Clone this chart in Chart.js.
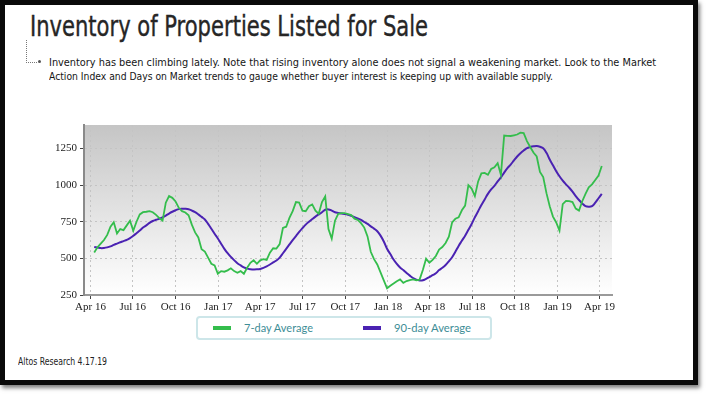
<!DOCTYPE html>
<html>
<head>
<meta charset="utf-8">
<script src="https://cdn.jsdelivr.net/npm/chart.js@4.4.0/dist/chart.umd.min.js"></script>
<style>
  html, body { margin: 0; padding: 0; width: 706px; height: 394px; overflow: hidden; background: #fff; }
  .frame { position: absolute; left: 0; top: 0; width: 688px; height: 375px; border: 5px solid #0a0a0a; box-shadow: 2px 3px 4px rgba(0,0,0,0.5); background: #fff; }
  .title { position: absolute; left: 30px; top: 9px; font-family: "Liberation Sans Narrow", "DejaVu Sans Condensed", sans-serif; font-size: 29px; line-height: 34px; color: #262626; white-space: nowrap; display: inline-block; transform-origin: left top; -webkit-text-stroke: 0.4px #262626; }
  .bracket { position: absolute; left: 26px; top: 40px; width: 10px; height: 22px; border-left: 1px dotted #777; border-bottom: 1px dotted #777; }
  .dot { position: absolute; left: 38px; top: 60px; width: 3px; height: 3px; background: #555; border-radius: 50%; }
  .para { position: absolute; left: 49px; font-family: "DejaVu Sans Condensed", "Liberation Sans", sans-serif; font-size: 11px; line-height: 14px; color: #151515; white-space: nowrap; display: inline-block; transform-origin: left top; }
  .source { position: absolute; left: 18px; top: 356px; font-family: "DejaVu Sans Condensed", "Liberation Sans", sans-serif; font-size: 10px; color: #222; white-space: nowrap; display: inline-block; transform-origin: left top; }
  .chart-box { position: absolute; left: 0; top: 115px; width: 706px; height: 200px; }
  .legend { position: absolute; left: 196px; top: 316px; width: 292px; height: 20px; border: 2px solid #cde6e9; border-radius: 4px; }
  .legend-item { position: absolute; top: 0; height: 20px; font-family: Lato, "Open Sans", sans-serif; font-size: 12px; line-height: 20px; color: #3e8d96; white-space: nowrap; }
  .legend-swatch { position: absolute; top: 8px; width: 18px; height: 4px; }
  .legend-text { position: absolute; left: 31px; top: 0; display: inline-block; transform-origin: left center; }
</style>
</head>
<body>
<div class="frame"></div>
<div class="title" id="title">Inventory of Properties Listed for Sale</div>
<div class="bracket"></div>
<div class="dot"></div>
<div class="para" id="line1" style="top:56px">Inventory has been climbing lately. Note that rising inventory alone does not signal a weakening market. Look to the Market</div>
<div class="para" id="line2" style="top:70px">Action Index and Days on Market trends to gauge whether buyer interest is keeping up with available supply.</div>
<div class="chart-box"><canvas id="chart" width="706" height="200"></canvas></div>
<div class="legend" id="legend"></div>
<div class="source" id="source">Altos Research 4.17.19</div>

<script>
// weekly readings, first week ending 9 Apr 2016
const firstWeek = '2016-04-09';
const seriesNames = ['7-day Average', '90-day Average'];
const seriesColors = ['#34bd4c', '#4a22b2'];

const sevenDay = [
  540, 575, 600, 625, 660, 716, 746, 670, 700, 693,
  725, 757, 689, 750, 800, 815, 818, 822, 815, 797,
  775, 757, 880, 925, 913, 888, 845, 822, 813, 794,
  730, 677, 643, 563, 546, 505, 463, 452, 395, 413,
  409, 418, 432, 413, 402, 413, 395, 436, 470, 487,
  463, 487, 494, 489, 539, 569, 567, 597, 707, 716,
  776, 822, 884, 880, 826, 822, 856, 868, 826, 804,
  884, 923, 700, 635, 757, 804, 808, 808, 802, 795,
  771, 762, 740, 710, 650, 545, 495, 458, 405, 350,
  296, 313, 328, 344, 356, 333, 345, 352, 356, 350,
  355, 420, 498, 470, 490, 516, 560, 577, 605, 648,
  745, 770, 780, 828, 860, 999, 976, 925, 1025, 1080,
  1083, 1070, 1110, 1122, 1150, 1070, 1338, 1336, 1335, 1340,
  1345, 1358, 1355, 1300, 1260, 1222, 1195, 1090, 1055, 945,
  855, 785, 745, 689, 870, 892, 890, 884, 840, 826,
  890, 940, 985, 1005, 1035, 1065, 1130
];

const ninetyDay = [
  578, 574, 570, 571, 575, 582, 592, 601, 610, 618,
  626, 638, 654, 672, 690, 710, 725, 742, 755, 763,
  770, 779, 792, 806, 818, 828, 836, 838, 838, 835,
  826, 815, 800, 783, 765, 735, 702, 668, 636, 600,
  565, 535, 510, 488, 467, 452, 438, 430, 426, 424,
  425, 428, 435, 445, 458, 472, 485, 505, 535, 565,
  595, 625, 652, 680, 706, 730, 750, 768, 785, 800,
  815, 832, 834, 826, 815, 810, 806, 803, 798, 790,
  781, 772, 762, 748, 735, 718, 703, 685, 655, 615,
  565, 530, 492, 462, 438, 420, 400, 382, 366, 355,
  349, 350, 360, 372, 385, 398, 420, 436, 455, 480,
  508, 545, 585, 620, 655, 695, 735, 780, 822, 864,
  902, 940, 970, 995, 1025, 1052, 1085, 1115, 1140, 1168,
  1195, 1217, 1236, 1252, 1260, 1265, 1267, 1262, 1251, 1220,
  1175, 1135, 1095, 1060, 1030, 1005, 982, 955, 925, 898,
  875, 856, 852, 856, 880, 910, 940
];

const tickDates = [
  '2016-04-01', '2016-07-01', '2016-10-01', '2017-01-01', '2017-04-01', '2017-07-01', '2017-10-01',
  '2018-01-01', '2018-04-01', '2018-07-01', '2018-10-01', '2019-01-01', '2019-04-01'
];
const tickLabels = [
  'Apr 16', 'Jul 16', 'Oct 16', 'Jan 17', 'Apr 17', 'Jul 17', 'Oct 17',
  'Jan 18', 'Apr 18', 'Jul 18', 'Oct 18', 'Jan 19', 'Apr 19'
];
const yTicks = [250, 500, 750, 1000, 1250];

const DAY = 86400000;
const origin = Date.parse(tickDates[0]);
const dayOf = (d) => (Date.parse(d) - origin) / DAY;
const start = dayOf(firstWeek);

function asPoints(values) {
  return values.map((v, i) => ({ x: start + i * 7, y: v }));
}

// fit the html text to the widths seen in the original
function fitWidth(el, w) {
  const r = el.getBoundingClientRect().width;
  el.style.transform = `scaleX(${w / r})`;
}
fitWidth(document.getElementById('title'), 398);
fitWidth(document.getElementById('line1'), 607);
fitWidth(document.getElementById('line2'), 504);
fitWidth(document.getElementById('source'), 89);

const plotShade = {
  id: 'plotShade',
  beforeDraw(chart) {
    const { ctx, chartArea: a } = chart;
    const g = ctx.createLinearGradient(0, a.top, 0, a.bottom);
    g.addColorStop(0, '#c5c5c5');
    g.addColorStop(1, '#ffffff');
    ctx.save();
    ctx.fillStyle = g;
    ctx.fillRect(a.left, a.top, a.right - a.left, a.bottom - a.top);
    ctx.restore();
  },
};

const tickFont = { family: '"Liberation Serif", "DejaVu Serif", serif', size: 11 };

new Chart(document.getElementById('chart'), {
  type: 'line',
  data: {
    datasets: [
      {
        label: seriesNames[0],
        data: asPoints(sevenDay),
        borderColor: seriesColors[0],
        borderWidth: 1.8,
        pointRadius: 0,
        tension: 0,
      },
      {
        label: seriesNames[1],
        data: asPoints(ninetyDay),
        borderColor: seriesColors[1],
        borderWidth: 2,
        pointRadius: 0,
        tension: 0.4,
      },
    ],
  },
  options: {
    responsive: false,
    animation: false,
    layout: { padding: { top: 10, right: 94, left: 0, bottom: 0 } },
    plugins: { legend: { display: false }, tooltip: { enabled: false } },
    scales: {
      x: {
        type: 'linear',
        min: -14,
        max: 1122,
        afterBuildTicks: (scale) => {
          scale.ticks = tickDates.map((d) => ({ value: dayOf(d) }));
        },
        afterFit: (scale) => { scale.height = 20; },
        ticks: {
          autoSkip: false,
          maxRotation: 0,
          padding: 2,
          color: '#222',
          font: tickFont,
          callback: (v, i) => tickLabels[i],
        },
        grid: { color: '#c4c4c4', tickLength: 4, tickColor: '#444', tickBorderDash: [] },
        border: { color: '#9a9a9a', width: 2, dash: [2, 3] },
      },
      y: {
        min: 250,
        max: 1410,
        afterBuildTicks: (scale) => {
          scale.ticks = yTicks.map((v) => ({ value: v }));
        },
        afterFit: (scale) => { scale.width = 84; },
        ticks: { padding: 3, color: '#222', font: tickFont, callback: (v) => String(v) },
        grid: { color: '#c4c4c4', tickLength: 4, tickColor: '#444', tickBorderDash: [] },
        border: { color: '#8a8a8a', width: 2, dash: [2, 3] },
      },
    },
  },
  plugins: [plotShade],
});

// legend built from the series names
const legend = document.getElementById('legend');
const legendLeft = [15, 165];
const legendTextWidth = [69, 77];
seriesNames.forEach((name, i) => {
  const item = document.createElement('div');
  item.className = 'legend-item';
  item.style.left = legendLeft[i] + 'px';
  item.innerHTML = `<div class="legend-swatch" style="background:${seriesColors[i]}"></div><span class="legend-text">${name}</span>`;
  legend.appendChild(item);
  fitWidth(item.querySelector('.legend-text'), legendTextWidth[i]);
});
</script>
</body>
</html>
